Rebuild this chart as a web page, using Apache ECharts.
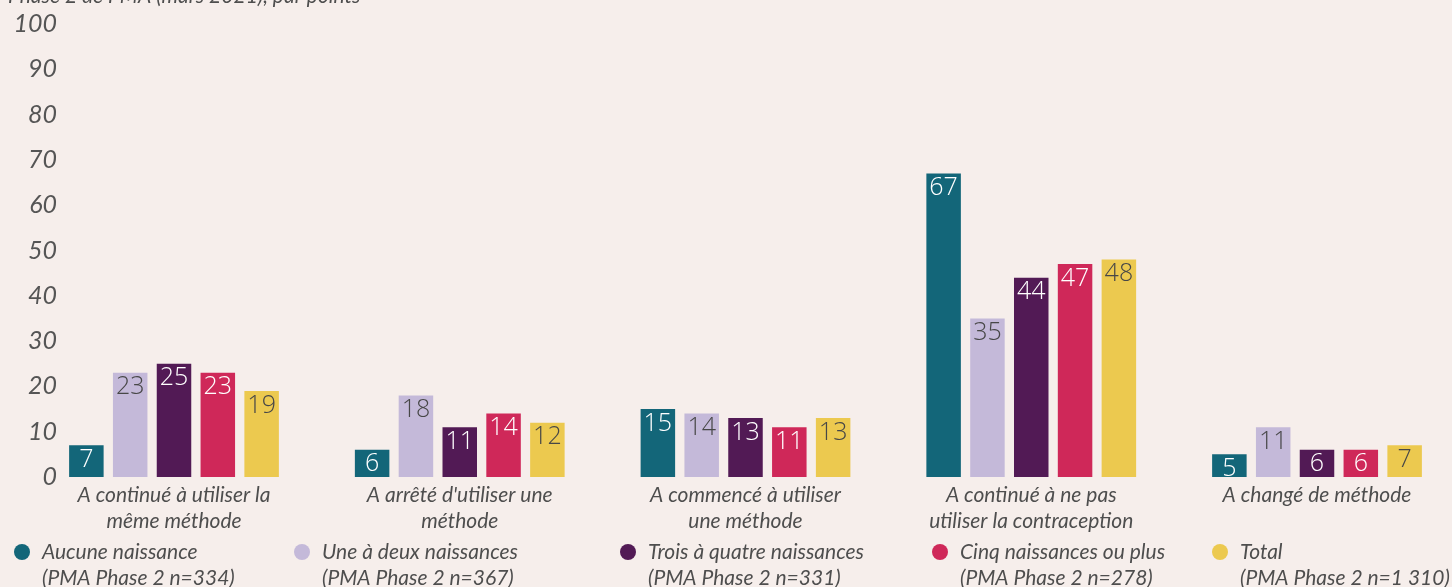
<!DOCTYPE html>
<html>
<head>
<meta charset="utf-8">
<script src="https://cdn.jsdelivr.net/npm/echarts@6/dist/echarts.min.js"></script>
<style>
  html, body { margin: 0; padding: 0; background: #f6eeeb; }
  #chart { width: 1452px; height: 587px; }
</style>
</head>
<body>
<div id="chart"></div>
<script>
var categories = [
  'A continué à utiliser la\nmême méthode',
  "A arrêté d'utiliser une\nméthode",
  'A commencé à utiliser\nune méthode',
  'A continué à ne pas\nutiliser la contraception',
  'A changé de méthode'
];
var seriesNames = ['Aucune naissance', 'Une à deux naissances', 'Trois à quatre naissances', 'Cinq naissances ou plus', 'Total'];
var sampleSizes = ['334', '367', '331', '278', '1 310'];
var aucune = [7, 6, 15, 67, 5];
var uneDeux = [23, 18, 14, 35, 11];
var troisQuatre = [25, 11, 13, 44, 6];
var cinqPlus = [23, 14, 11, 47, 6];
var total = [19, 12, 13, 48, 7];
var yTicks = [0, 10, 20, 30, 40, 50, 60, 70, 80, 90, 100];

var colors = ['#136679', '#c4b9d9', '#521a55', '#cf2859', '#ecc94f'];
var labelColors = ['#ffffff', '#474747', '#ffffff', '#ffffff', '#474747'];
var values = [aucune, uneDeux, troisQuatre, cinqPlus, total];
var legendLefts = [14, 294, 620, 932, 1212];

var chart = echarts.init(document.getElementById('chart'), null, {renderer: 'canvas'});

var series = [];
var legends = [];
for (var i = 0; i < seriesNames.length; i++) {
  series.push({
    name: seriesNames[i],
    type: 'bar',
    data: values[i],
    barWidth: 34.5,
    barGap: '27%',
    clip: false,
    itemStyle: {color: colors[i]},
    label: {
      show: true,
      position: 'insideTop',
      distance: 2,
      color: labelColors[i],
      fontFamily: 'Open Sans',
      fontWeight: 300,
      fontSize: 25
    }
  });
  (function(idx){
    // empty first line so the icon sits beside the name line
    legends.push({
      data: [seriesNames[idx]],
      left: legendLefts[idx],
      top: 513,
      padding: 0,
      icon: 'circle',
      itemWidth: 16,
      itemHeight: 16,
      selectedMode: false,
      formatter: function(name){
        return ' \n' + name + '\n(PMA Phase 2 n=' + sampleSizes[idx] + ')';
      },
      textStyle: {
        fontFamily: 'Lato',
        fontStyle: 'italic',
        fontSize: 21,
        lineHeight: 26,
        color: '#4e4e4e',
        padding: [0, 0, 0, 7]
      }
    });
  })(i);
}

chart.setOption({
  backgroundColor: '#f6eeeb',
  animation: false,
  title: {
    text: 'Phase 2 de PMA (mars 2021), par points',
    left: 3,
    top: -19,
    textStyle: {fontFamily: 'Lato', fontStyle: 'italic', fontWeight: 'normal', fontSize: 21, color: '#4e4e4e'}
  },
  legend: legends,
  // category centres sit on the ticks (boundaryGap false) so the last group fits
  grid: {left: 174, right: 135, top: 24, bottom: 110, containLabel: false},
  xAxis: {
    type: 'category',
    data: categories,
    boundaryGap: false,
    axisLine: {show: false},
    axisTick: {show: false},
    axisLabel: {
      margin: 5,
      interval: 0,
      showMinLabel: true,
      showMaxLabel: true,
      fontFamily: 'Lato',
      fontStyle: 'italic',
      fontSize: 21,
      lineHeight: 26,
      color: '#4e4e4e'
    }
  },
  yAxis: {
    type: 'value',
    min: yTicks[0],
    max: yTicks[yTicks.length - 1],
    interval: 10,
    offset: 109,
    axisLine: {show: false},
    axisTick: {show: false},
    splitLine: {show: false},
    axisLabel: {
      margin: 8,
      fontFamily: 'Lato',
      fontStyle: 'italic',
      fontSize: 25,
      color: '#555555'
    }
  },
  series: series
});
</script>
</body>
</html>
